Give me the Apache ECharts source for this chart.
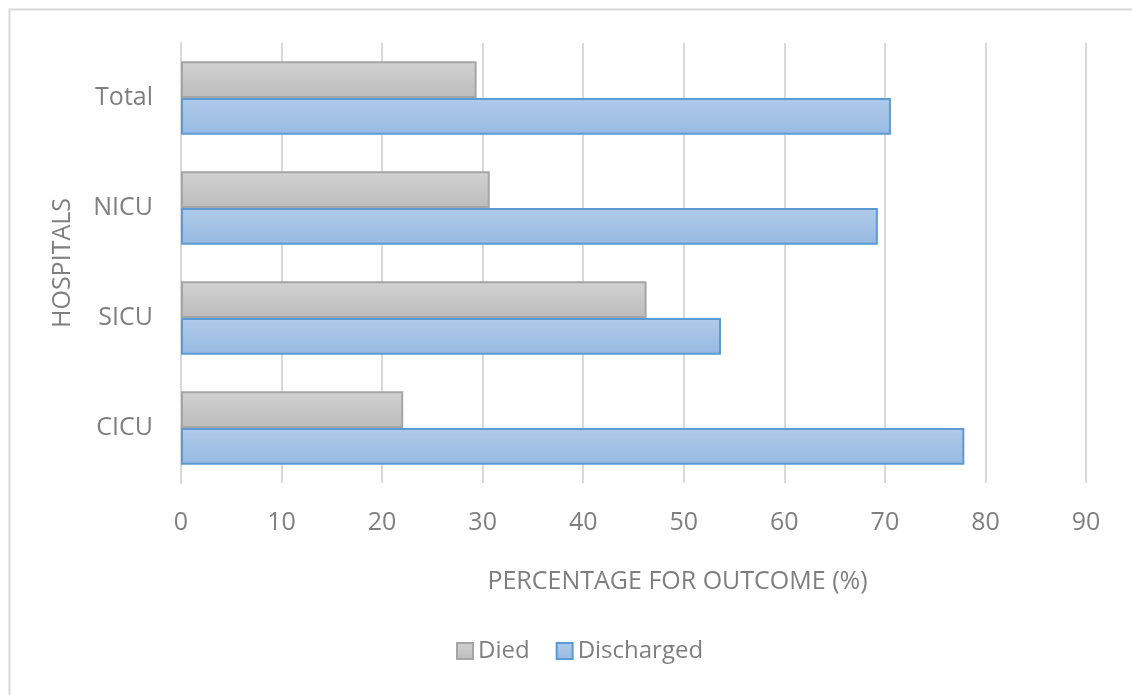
<!DOCTYPE html>
<html><head><meta charset="utf-8">
<script src="https://cdn.jsdelivr.net/npm/echarts@6/dist/echarts.min.js"></script>
<style>html,body{margin:0;padding:0;background:#fff}#c{width:1132px;height:695px}</style>
</head><body><div id="c"></div>
<script>
const categories = ['CICU', 'SICU', 'NICU', 'Total'];
const died = [22.1, 46.3, 30.7, 29.4];
const discharged = [77.9, 53.7, 69.3, 70.6];
const xTicks = [0, 10, 20, 30, 40, 50, 60, 70, 80, 90];

const FONT = 'Open Sans';
const TXT = '#7f7f7f';
const chart = echarts.init(document.getElementById('c'));
chart.setOption({
  animation: false,
  backgroundColor: '#fff',
  graphic: [{
    type: 'rect', left: 7, top: 7,
    shape: { width: 1140, height: 700 },
    style: { fill: 'none', stroke: '#d9d9d9', lineWidth: 2 }, silent: true, z: -1
  }],
  grid: { left: 181, right: 46, top: 43, bottom: 212 },
  legend: {
    data: ['Died', 'Discharged'],
    bottom: 27, left: 451,
    icon: 'rect', itemWidth: 16, itemHeight: 16, itemGap: 26,
    textStyle: { color: TXT, fontFamily: FONT, fontSize: 24 }
  },
  xAxis: {
    type: 'value', min: xTicks[0], max: xTicks[xTicks.length - 1], interval: 10,
    name: 'PERCENTAGE FOR OUTCOME (%)', nameLocation: 'middle', nameGap: 86,
    nameTextStyle: { color: TXT, fontFamily: FONT, fontSize: 25, padding: [0, 0, 0, 88] },
    axisLine: { show: false }, axisTick: { show: false },
    axisLabel: { color: TXT, fontFamily: FONT, fontSize: 25, margin: 27 },
    splitLine: { lineStyle: { color: '#d9d9d9', width: 2 } }
  },
  yAxis: {
    type: 'category', data: categories,
    name: 'HOSPITALS', nameLocation: 'middle', nameGap: 106, nameRotate: 90,
    nameTextStyle: { color: TXT, fontFamily: FONT, fontSize: 25 },
    axisLine: { show: true, lineStyle: { color: '#d9d9d9', width: 2 } },
    axisTick: { show: false },
    axisLabel: { color: TXT, fontFamily: FONT, fontSize: 25, margin: 28 }
  },
  series: [
    {
      name: 'Died', type: 'bar', data: died,
      barGap: '0%', barCategoryGap: '33%',
      itemStyle: {
        color: new echarts.graphic.LinearGradient(0, 0, 0, 1, [
          { offset: 0, color: '#d2d2d2' }, { offset: 1, color: '#bcbcbc' }]),
        borderColor: '#a5a5a5', borderWidth: 2
      }
    },
    {
      name: 'Discharged', type: 'bar', data: discharged,
      barGap: '0%', barCategoryGap: '33%',
      itemStyle: {
        color: new echarts.graphic.LinearGradient(0, 0, 0, 1, [
          { offset: 0, color: '#b0cbea' }, { offset: 1, color: '#97b9e2' }]),
        borderColor: '#5b9bd5', borderWidth: 2
      }
    }
  ]
});
</script></body></html>
